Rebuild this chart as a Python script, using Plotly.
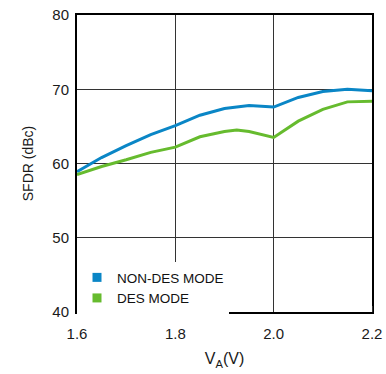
import plotly.graph_objects as go

# Data
va_nondes = [1.60, 1.65, 1.70, 1.75, 1.80, 1.85, 1.90, 1.95, 2.00, 2.05, 2.10, 2.15, 2.20]
sfdr_nondes = [58.9, 60.8, 62.4, 63.9, 65.1, 66.5, 67.4, 67.8, 67.6, 68.9, 69.7, 70.0, 69.8]

va_des = [1.60, 1.65, 1.70, 1.75, 1.80, 1.85, 1.90, 1.925, 1.95, 2.00, 2.05, 2.10, 2.15, 2.20]
sfdr_des = [58.5, 59.6, 60.5, 61.5, 62.2, 63.6, 64.3, 64.5, 64.3, 63.5, 65.7, 67.3, 68.3, 68.4]

series_names = ["NON-DES MODE", "DES MODE"]
colors = ["#0A86C6", "#66BB2E"]

x_ticks = [1.6, 1.8, 2.0, 2.2]
y_ticks = [40, 50, 60, 70, 80]

fig = go.Figure()
for xs, ys, name, c in [(va_nondes, sfdr_nondes, series_names[0], colors[0]),
                        (va_des, sfdr_des, series_names[1], colors[1])]:
    fig.add_trace(go.Scatter(x=xs, y=ys, mode="lines", line=dict(color=c, width=3),
                             showlegend=False, hoverinfo="skip"))
    fig.add_trace(go.Scatter(x=[1.0], y=[0.0], mode="markers", name=name,
                             marker=dict(symbol="square", size=9, color=c)))

font = "Liberation Sans, Arial, sans-serif"
fig.update_layout(
    width=386, height=374,
    margin=dict(l=77, r=14, t=15, b=62, autoexpand=False),
    paper_bgcolor="white", plot_bgcolor="white",
    font=dict(family=font, color="#1a1a1a", size=14),
    legend=dict(x=0.0, y=0.168, xanchor="left", yanchor="top",
                bgcolor="white", font=dict(size=13.5, color="#111111"),
                itemwidth=30, tracegroupgap=0),
)
fig.update_xaxes(
    range=[1.6, 2.2], tickvals=x_ticks, ticktext=[f"{v:.1f}" for v in x_ticks],
    showgrid=True, gridcolor="#333333", gridwidth=1,
    showline=True, linecolor="black", linewidth=2, mirror=True,
    ticks="outside", ticklen=7, tickcolor="rgba(0,0,0,0)",
    minor=dict(ticks="inside", tickvals=x_ticks, ticklen=6, tickcolor="#333333", showgrid=False),
    tickfont=dict(size=15), zeroline=False, automargin=False,
    title=dict(text="V<sub>A</sub>(V)", font=dict(size=16), standoff=12),
)
fig.update_yaxes(
    range=[40, 80], tickvals=y_ticks,
    showgrid=True, gridcolor="#333333", gridwidth=1,
    showline=True, linecolor="black", linewidth=2, mirror=True,
    ticks="outside", ticklen=3, tickcolor="rgba(0,0,0,0)",
    tickfont=dict(size=15), zeroline=False, automargin=False,
    title=dict(text="SFDR (dBc)", font=dict(size=14), standoff=15),
)

fig.write_html("out.html", config={"displayModeBar": False},
               post_script="document.body.style.margin='0';document.body.style.overflow='hidden';")
